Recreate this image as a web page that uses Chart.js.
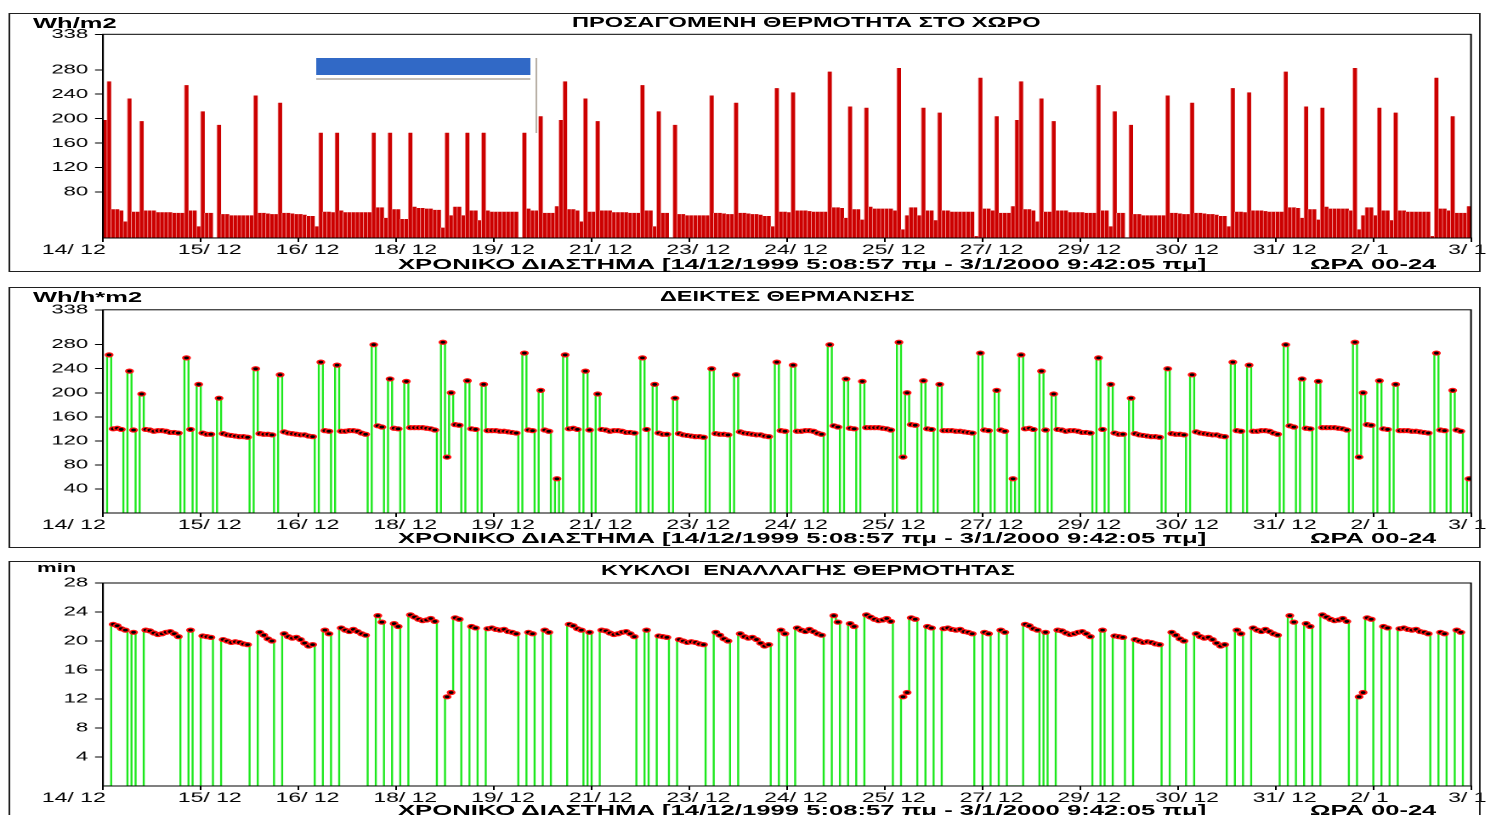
<!DOCTYPE html>
<html>
<head>
<meta charset="utf-8">
<script src="https://cdn.jsdelivr.net/npm/chart.js@4.4.0/dist/chart.umd.min.js"></script>
<style>
  html, body { margin: 0; padding: 0; background: #fff; width: 1486px; height: 815px; overflow: hidden; }
  /* the whole report is stretched sideways, so it is laid out narrow and scaled */
  #stage { position: absolute; left: 0; top: 0; width: 874px; height: 815px; transform: scaleX(1.7); transform-origin: 0 0;
           font-family: "Liberation Sans", Arial, sans-serif; color: #000; }
  .box { position: absolute; border: 1.5px solid #202020; box-sizing: border-box; }
  .lbl { position: absolute; white-space: pre; line-height: 1; }
  .deco { position: absolute; }
  canvas { position: absolute; left: 0; }
</style>
</head>
<body>
<div id="stage"></div>
<script>
// ---------------- data (hourly samples) ----------------
const xLabels = ['14/ 12', '15/ 12', '16/ 12', '18/ 12', '19/ 12', '21/ 12', '23/ 12', '24/ 12',
                 '25/ 12', '27/ 12', '29/ 12', '30/ 12', '31/ 12', '2/ 1', '3/ 1'];
const samplesPerLabel = 24;
const heatTicks = [338, 280, 240, 200, 160, 120, 80];
const indexTicks = [338, 280, 240, 200, 160, 120, 80, 40];
const cycleTicks = [28, 24, 20, 16, 12, 8, 4];

// Wh/m2
const heatBars = [
  198,261,52,52,50,32,233,48,48,196,50,50,50,47,47,47,47,46,46,46,255,50,50,24,212,46,46,6,190,44,
  44,42,42,42,42,42,42,238,46,46,45,44,44,226,46,46,45,44,44,43,41,41,24,
  177,48,48,47,177,50,47,47,47,47,47,47,47,177,55,55,38,177,52,52,36,36,177,56,54,54,53,53,51,51,
  22,177,42,56,56,42,177,50,50,34,177,50,48,48,48,48,48,48,48,6,177,53,50,50,
  204,46,46,46,57,
  198,261,52,52,50,32,233,48,48,196,50,50,50,47,47,47,47,46,46,46,255,50,50,24,212,46,46,6,190,44,
  44,42,42,42,42,42,42,238,46,46,45,44,44,226,46,46,45,44,44,43,41,41,24,
  250,48,48,47,243,50,50,50,49,48,48,48,48,277,55,55,54,38,220,52,52,35,218,56,53,53,53,53,53,50,
  283,19,42,55,55,42,218,50,50,34,210,50,50,48,48,48,48,48,48,8,267,53,53,50,
  204,46,46,46,57,
  198,261,52,52,50,32,233,48,48,196,50,50,50,47,47,47,47,46,46,46,255,50,50,24,212,46,46,6,190,44,
  44,42,42,42,42,42,42,238,46,46,45,44,44,226,46,46,45,44,44,43,41,41,24,
  250,48,48,47,243,50,50,50,49,48,48,48,48,277,55,55,54,38,220,52,52,35,218,56,53,53,53,53,53,50,
  283,19,42,55,55,42,218,50,50,34,210,50,50,48,48,48,48,48,48,8,267,53,53,50,
  204,46,46,46,57
];

// Wh/h*m2
const indexLine = [
  0,263,140,141,139,0,236,138,0,198,139,138,136,137,137,136,134,134,133,0,
  258,139,0,214,133,131,131,0,191,132,130,129,128,127,127,126,0,240,132,131,
  131,130,0,230,135,133,132,131,130,130,128,127,0,251,137,136,0,246,136,136,
  137,137,136,133,131,0,280,145,143,0,223,141,140,0,219,142,142,142,142,141,
  140,138,0,284,93,200,147,146,0,220,140,139,0,214,137,137,137,
  136,136,135,134,133,0,266,138,137,0,
  204,138,136,0,57,
  0,263,140,141,139,0,236,138,0,198,139,138,136,137,137,136,134,134,133,0,
  258,139,0,214,133,131,131,0,191,132,130,129,128,127,127,126,0,240,132,131,
  131,130,0,230,135,133,132,131,130,130,128,127,0,251,137,136,0,246,136,136,
  137,137,136,133,131,0,280,145,143,0,223,141,140,0,219,142,142,142,142,141,
  140,138,0,284,93,200,147,146,0,220,140,139,0,214,137,137,137,
  136,136,135,134,133,0,266,138,137,0,
  204,138,136,0,57,
  0,263,140,141,139,0,236,138,0,198,139,138,136,137,137,136,134,134,133,0,
  258,139,0,214,133,131,131,0,191,132,130,129,128,127,127,126,0,240,132,131,
  131,130,0,230,135,133,132,131,130,130,128,127,0,251,137,136,0,246,136,136,
  137,137,136,133,131,0,280,145,143,0,223,141,140,0,219,142,142,142,142,141,
  140,138,0,284,93,200,147,146,0,220,140,139,0,214,137,137,137,
  136,136,135,134,133,0,266,138,137,0,
  204,138,136,0,57
];

// min
const cycleLine = [
  0,0,22.3,22.1,21.7,21.5,0,21.2,0,0,21.5,21.4,21.1,20.9,21.0,21.2,21.3,21.0,20.6,0,
  0,21.5,0,0,20.7,20.6,20.5,0,0,20.2,20.0,19.8,19.9,19.8,19.6,19.5,0,0,21.2,20.8,
  20.3,20.0,0,0,21.0,20.6,20.4,20.5,20.2,19.7,19.3,19.5,0,0,21.5,21.0,0,0,21.8,21.5,
  21.3,21.6,21.3,21.0,20.8,0,0,23.5,22.6,0,0,22.4,22.0,0,0,23.6,23.3,23.0,22.8,22.9,
  23.1,22.7,0,0,12.3,12.9,23.2,23.0,0,0,22.0,21.8,0,0,21.7,21.8,21.6,
  21.5,21.6,21.3,21.2,21.0,0,0,21.2,21.0,0,
  0,21.5,21.2,0,0,
  0,0,22.3,22.1,21.7,21.5,0,21.2,0,0,21.5,21.4,21.1,20.9,21.0,21.2,21.3,21.0,20.6,0,
  0,21.5,0,0,20.7,20.6,20.5,0,0,20.2,20.0,19.8,19.9,19.8,19.6,19.5,0,0,21.2,20.8,
  20.3,20.0,0,0,21.0,20.6,20.4,20.5,20.2,19.7,19.3,19.5,0,0,21.5,21.0,0,0,21.8,21.5,
  21.3,21.6,21.3,21.0,20.8,0,0,23.5,22.6,0,0,22.4,22.0,0,0,23.6,23.3,23.0,22.8,22.9,
  23.1,22.7,0,0,12.3,12.9,23.2,23.0,0,0,22.0,21.8,0,0,21.7,21.8,21.6,
  21.5,21.6,21.3,21.2,21.0,0,0,21.2,21.0,0,
  0,21.5,21.2,0,0,
  0,0,22.3,22.1,21.7,21.5,0,21.2,0,0,21.5,21.4,21.1,20.9,21.0,21.2,21.3,21.0,20.6,0,
  0,21.5,0,0,20.7,20.6,20.5,0,0,20.2,20.0,19.8,19.9,19.8,19.6,19.5,0,0,21.2,20.8,
  20.3,20.0,0,0,21.0,20.6,20.4,20.5,20.2,19.7,19.3,19.5,0,0,21.5,21.0,0,0,21.8,21.5,
  21.3,21.6,21.3,21.0,20.8,0,0,23.5,22.6,0,0,22.4,22.0,0,0,23.6,23.3,23.0,22.8,22.9,
  23.1,22.7,0,0,12.3,12.9,23.2,23.0,0,0,22.0,21.8,0,0,21.7,21.8,21.6,
  21.5,21.6,21.3,21.2,21.0,0,0,21.2,21.0,0,
  0,21.5,21.2,0,0
];

const rangeText = 'ΧΡΟΝΙΚΟ ΔΙΑΣΤΗΜΑ [14/12/1999 5:08:57 πμ - 3/1/2000 9:42:05 πμ]';
const hourText = 'ΩΡΑ 00-24';

// ---------------- layout ----------------
const SX = 1.7;               // horizontal stretch of the whole picture
const W = 874;                // logical canvas width (874 * 1.7 ~ 1486)
const PLOT_L = 103 / SX;
const PLOT_R = 1471 / SX;
const stage = document.getElementById('stage');

Chart.defaults.font.family = '"Liberation Sans", Arial, sans-serif';
Chart.defaults.color = '#000';

function label(str, x, capTop, size, bold) {
  const d = document.createElement('div');
  d.className = 'lbl';
  d.textContent = str;
  d.style.left = (x / SX) + 'px';
  d.style.top = (capTop - size * 0.13) + 'px';
  d.style.fontSize = size + 'px';
  d.style.fontWeight = bold ? 'bold' : 'normal';
  stage.appendChild(d);
}

function box(x1, y1, x2, y2) {
  const d = document.createElement('div');
  d.className = 'box';
  d.style.left = (x1 / SX) + 'px';
  d.style.top = y1 + 'px';
  d.style.width = ((x2 - x1) / SX) + 'px';
  d.style.height = (y2 - y1) + 'px';
  stage.appendChild(d);
}

function deco(x1, y1, x2, y2, color) {
  const d = document.createElement('div');
  d.className = 'deco';
  d.style.left = (x1 / SX) + 'px';
  d.style.top = y1 + 'px';
  d.style.width = ((x2 - x1) / SX) + 'px';
  d.style.height = (y2 - y1) + 'px';
  d.style.background = color;
  stage.appendChild(d);
}

const frame = {
  id: 'frame',
  afterDraw(chart) {
    const {ctx, chartArea: a} = chart;
    ctx.save();
    ctx.strokeStyle = '#000';
    ctx.lineWidth = 1;
    ctx.strokeRect(a.left, a.top, a.right - a.left, a.bottom - a.top);
    ctx.restore();
  }
};

function makeCanvas(p) {
  const cv = document.createElement('canvas');
  cv.width = W;
  cv.height = p.height;
  cv.style.top = p.top + 'px';
  stage.appendChild(cv);
  return cv;
}

function scales(p, yTicks, min, max) {
  return {
    x: {
      type: 'linear', min: 0, max: heatBars.length, offset: false,
      afterBuildTicks: ax => { ax.ticks = xLabels.map((_, i) => ({value: i * samplesPerLabel})); },
      afterFit: ax => { ax.height = p.top + p.height - p.bottom; },
      ticks: {
        autoSkip: false, maxRotation: 0, minRotation: 0, align: 'end', labelOffset: 41 / SX, padding: 0,
        font: {size: 13.5},
        callback: (v, i) => xLabels[i] + (i === 0 ? '      ' : xLabels[i].length < 5 ? '    ' : '')
      },
      grid: {drawOnChartArea: false, offset: false, tickLength: 4, color: '#000'},
      border: {color: '#000'}
    },
    y: {
      type: 'linear', min, max,
      afterBuildTicks: ax => { ax.ticks = yTicks.map(v => ({value: v})); },
      afterFit: ax => { ax.width = PLOT_L; },
      ticks: {padding: 4, font: {size: 13}},
      grid: {drawOnChartArea: false, tickLength: 4.7, color: '#000'},
      border: {color: '#000'}
    }
  };
}

function baseOptions(p) {
  return {
    responsive: false, animation: false, devicePixelRatio: 2, events: [],
    layout: {autoPadding: false, padding: {left: 0, right: W - PLOT_R, top: p.plotTop - p.top, bottom: 0}},
    plugins: {legend: {display: false}, tooltip: {enabled: false}}
  };
}

const panels = [
  {top: 0,   height: 275, plotTop: 34.3,  bottom: 238},
  {top: 276, height: 272, plotTop: 309.8, bottom: 513},
  {top: 549, height: 266, plotTop: 583,   bottom: 786}
];

// panel 1: bars
{
  const p = panels[0];
  new Chart(makeCanvas(p), {
    type: 'bar',
    data: {datasets: [{
      data: heatBars.map((v, i) => ({x: i + 0.5, y: v})),
      backgroundColor: '#cc0000',
      borderColor: '#f19a9a',
      borderWidth: {left: 0.5, right: 0, top: 0, bottom: 0},
      borderSkipped: false,
      barPercentage: 1, categoryPercentage: 1
    }]},
    options: {...baseOptions(p), scales: scales(p, heatTicks, 5, 338)},
    plugins: [frame]
  });
}

// panels 2 and 3: stepped green trace, a red/black marker on every non-zero sample
function lineChart(p, values, yTicks, max) {
  new Chart(makeCanvas(p), {
    type: 'line',
    data: {datasets: [{
      data: values.map((v, i) => ({x: i + 0.5, y: v})),
      borderColor: '#1ee81e',
      borderWidth: 1.2,
      stepped: 'middle',
      pointRadius: c => (c.raw && c.raw.y > 0 ? 2 : 0),
      pointBackgroundColor: '#000',
      pointBorderColor: '#ff1010',
      pointBorderWidth: 1.2
    }]},
    options: {...baseOptions(p), scales: scales(p, yTicks, 0, max)},
    plugins: [frame]
  });
}
lineChart(panels[1], indexLine, indexTicks, 338);
lineChart(panels[2], cycleLine, cycleTicks, 28);

// frames, titles and captions
box(8, 13, 1480, 272);
box(8, 287, 1480, 548);
box(8, 561, 1480, 830);

label('Wh/m2', 33, 17, 15, true);
label('ΠΡΟΣΑΓΟΜΕΝΗ ΘΕΡΜΟΤΗΤΑ ΣΤΟ ΧΩΡΟ', 572, 18, 13.9, true);
label(rangeText, 398, 257.5, 15.1, true);
label(hourText, 1310, 257.5, 15, true);

label('Wh/h*m2', 33, 291, 15, true);
label('ΔΕΙΚΤΕΣ ΘΕΡΜΑΝΣΗΣ', 660, 291.5, 13.8, true);
label(rangeText, 398, 531.5, 15.1, true);
label(hourText, 1310, 531.5, 15, true);

label('min', 37, 563, 13, true);
label('ΚΥΚΛΟΙ  ΕΝΑΛΛΑΓΗΣ ΘΕΡΜΟΤΗΤΑΣ', 601, 565.5, 13.8, true);
label(rangeText, 398, 804, 15.1, true);
label(hourText, 1310, 804, 15, true);

// the blue window strip lying over the first panel
deco(316, 58, 531, 75, '#3169c6');
deco(316, 78, 530, 80, '#c4beb6');
deco(535, 58, 537.5, 133, '#b8b0a6');
</script>
</body>
</html>
